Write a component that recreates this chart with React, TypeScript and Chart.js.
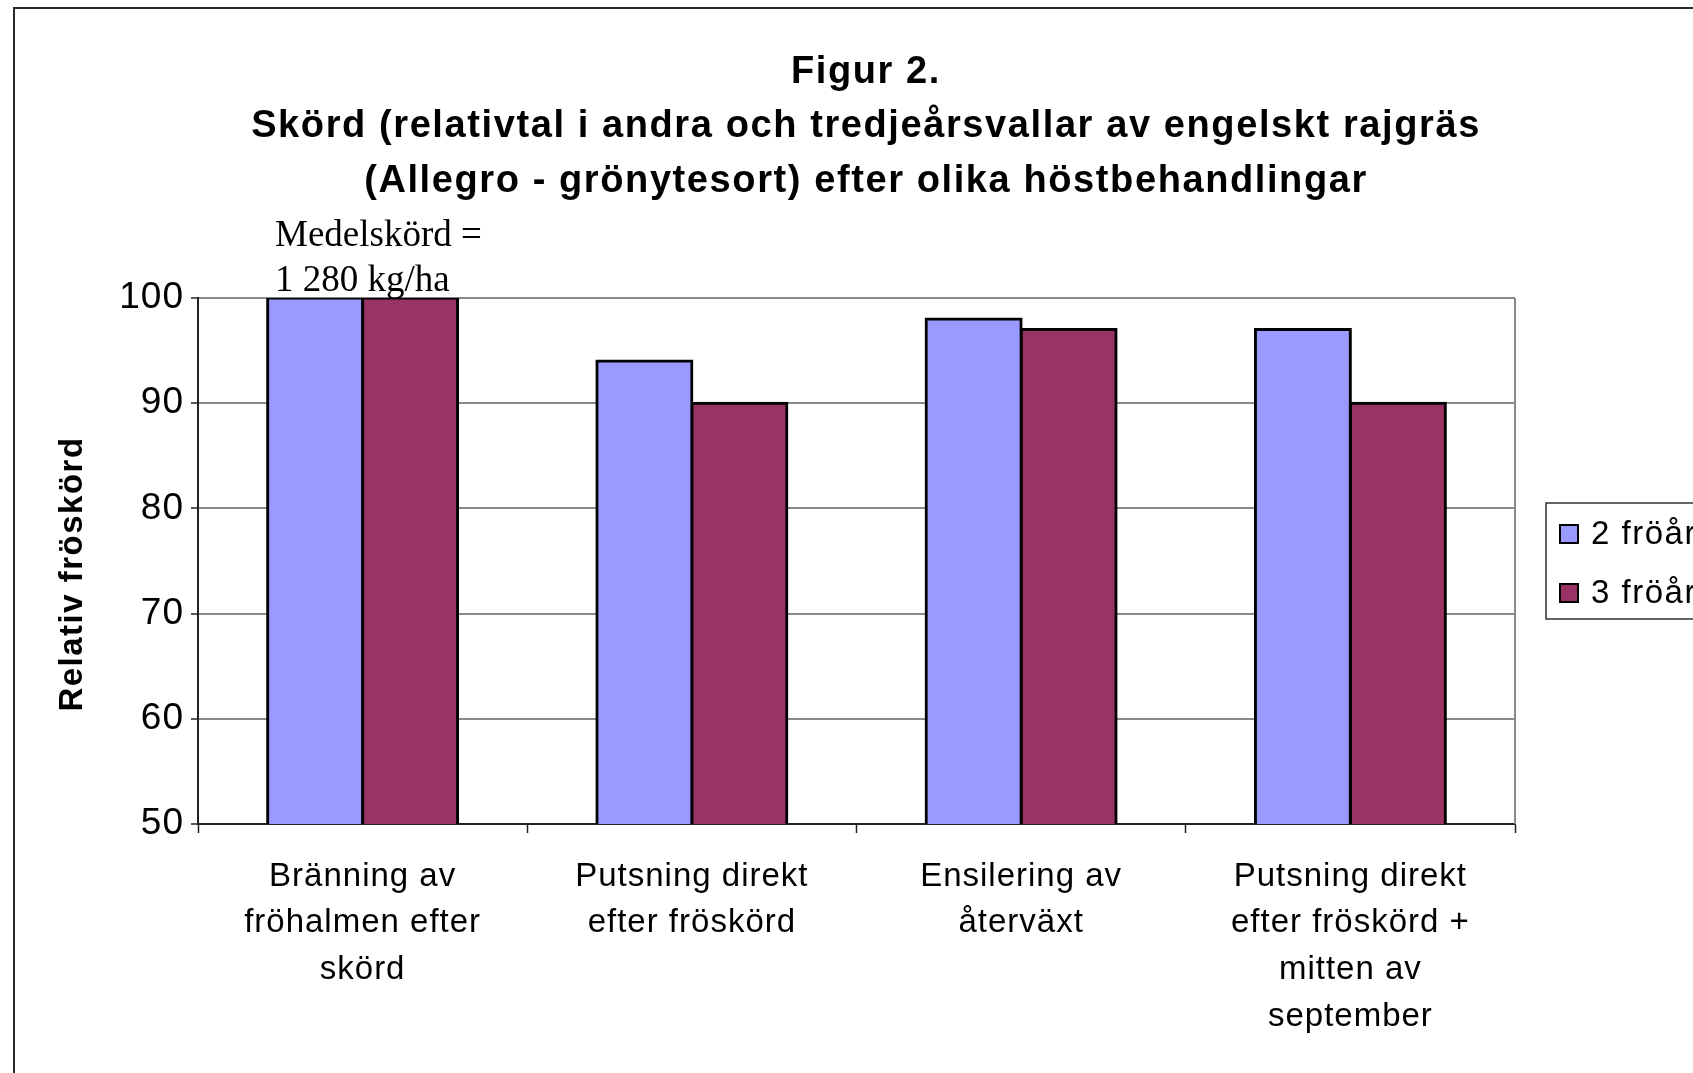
import React, { useEffect, useRef } from "react";
import { Chart, registerables } from "chart.js";

Chart.register(...registerables);

const categories: string[][] = [
  ["Bränning av", "fröhalmen efter", "skörd"],
  ["Putsning direkt", "efter fröskörd"],
  ["Ensilering av", "återväxt"],
  ["Putsning direkt", "efter fröskörd +", "mitten av", "september"],
];
const seriesLabels = ["2 fröår", "3 fröår"];
const series2 = [100, 94, 98, 97];
const series3 = [100, 90, 97, 90];
const seriesColors = ["#9999FF", "#993366"];
const yMin = 50;
const yMax = 100;
const yStep = 10;
const titleLines = [
  "Figur 2.",
  "Skörd (relativtal i andra och tredjeårsvallar av engelskt rajgräs",
  "(Allegro - grönytesort) efter olika höstbehandlingar",
];
const noteLines = ["Medelskörd =", "1 280 kg/ha"];
const yTitle = "Relativ fröskörd";

const W = 1693;
const H = 1073;
const SANS = "'Liberation Sans', Arial, sans-serif";

const decorPlugin = {
  id: "decor",
  beforeDraw(chart: any) {
    const ctx = chart.ctx as any;
    ctx.save();
    ctx.fillStyle = "#ffffff";
    ctx.fillRect(0, 0, chart.width, chart.height);
    ctx.strokeStyle = "#2a2a2a";
    ctx.lineWidth = 2;
    ctx.beginPath();
    ctx.moveTo(14, H + 10);
    ctx.lineTo(14, 8);
    ctx.lineTo(W + 10, 8);
    ctx.stroke();
    ctx.restore();
    ctx.letterSpacing = "1px";
  },
  afterDraw(chart: any) {
    const ctx = chart.ctx as any;
    const ca = chart.chartArea;
    ctx.save();
    // right plot border
    ctx.strokeStyle = "#8a8a8a";
    ctx.lineWidth = 2;
    ctx.beginPath();
    ctx.moveTo(ca.right, ca.top);
    ctx.lineTo(ca.right, ca.bottom);
    ctx.stroke();

    // title
    ctx.letterSpacing = "1.6px";
    ctx.fillStyle = "#000";
    ctx.font = `bold 38px ${SANS}`;
    ctx.textAlign = "center";
    ctx.textBaseline = "middle";
    const tY = [73, 127, 182];
    titleLines.forEach((t, i) => ctx.fillText(t, 866, tY[i]));

    // y axis title
    ctx.save();
    ctx.translate(73, 574);
    ctx.rotate(-Math.PI / 2);
    ctx.letterSpacing = "1.5px";
    ctx.font = `bold 33px ${SANS}`;
    ctx.fillText(yTitle, 0, 0);
    ctx.restore();

    // note
    ctx.letterSpacing = "0px";
    ctx.font = `37px 'Liberation Serif', 'Times New Roman', serif`;
    ctx.textAlign = "left";
    ctx.textBaseline = "alphabetic";
    noteLines.forEach((t, i) => ctx.fillText(t, 275, 246 + i * 45));

    // legend
    ctx.strokeStyle = "#333";
    ctx.lineWidth = 1.5;
    ctx.strokeRect(1546, 503, 200, 116);
    ctx.letterSpacing = "1.5px";
    ctx.font = `33px ${SANS}`;
    ctx.textBaseline = "middle";
    chart.data.datasets.forEach((ds: any, i: number) => {
      const cy = 534 + i * 59;
      ctx.fillStyle = ds.backgroundColor;
      ctx.fillRect(1560, cy - 9, 18, 18);
      ctx.strokeStyle = "#000";
      ctx.lineWidth = 2;
      ctx.strokeRect(1560, cy - 9, 18, 18);
      ctx.fillStyle = "#000";
      ctx.fillText(ds.label, 1591, cy + 1);
    });
    ctx.restore();
  },
};

export default function App() {
  const ref = useRef<HTMLCanvasElement>(null);
  useEffect(() => {
    if (!ref.current) return;
    const chart = new Chart(ref.current, {
      type: "bar",
      data: {
        labels: categories,
        datasets: [
          { label: seriesLabels[0], data: series2, backgroundColor: seriesColors[0] },
          { label: seriesLabels[1], data: series3, backgroundColor: seriesColors[1] },
        ],
      },
      options: {
        animation: false,
        responsive: false,
        devicePixelRatio: 1,
        layout: { padding: { left: 0, top: 298, right: 178, bottom: 0 } },
        datasets: {
          bar: {
            categoryPercentage: 0.577,
            barPercentage: 1,
            borderColor: "#000",
            borderWidth: 3,
            borderSkipped: false,
            inflateAmount: 1.5,
          } as any,
        },
        plugins: {
          legend: { display: false },
          title: { display: false },
          tooltip: { enabled: false },
        },
        scales: {
          x: {
            grid: {
              drawOnChartArea: false,
              drawTicks: true,
              tickLength: 9,
              tickColor: "#222",
              tickWidth: 1.5,
              offset: true,
            },
            border: { display: true, color: "#222", width: 2 },
            ticks: {
              autoSkip: false,
              maxRotation: 0,
              minRotation: 0,
              padding: 20,
              color: "#000",
              font: { family: SANS, size: 33, lineHeight: 1.42 },
            },
            afterFit(scale: any) {
              scale.height = 249;
            },
          },
          y: {
            min: yMin,
            max: yMax,
            ticks: {
              stepSize: yStep,
              padding: 7,
              color: "#000",
              font: { family: SANS, size: 37 },
            },
            grid: {
              color: "#8a8a8a",
              lineWidth: 2,
              tickColor: "#222",
              tickLength: 7,
              tickWidth: 1.5,
            },
            border: { display: true, color: "#222", width: 2 },
            title: { display: false },
            afterFit(scale: any) {
              scale.width = 198;
            },
          },
        },
      },
      plugins: [decorPlugin],
    });
    return () => chart.destroy();
  }, []);
  return (
    <div
      style={{
        position: "fixed",
        left: 0,
        top: 0,
        width: W,
        height: H,
        overflow: "hidden",
        background: "#fff",
      }}
    >
      <canvas ref={ref} width={W} height={H} style={{ display: "block", width: W, height: H }} />
    </div>
  );
}
